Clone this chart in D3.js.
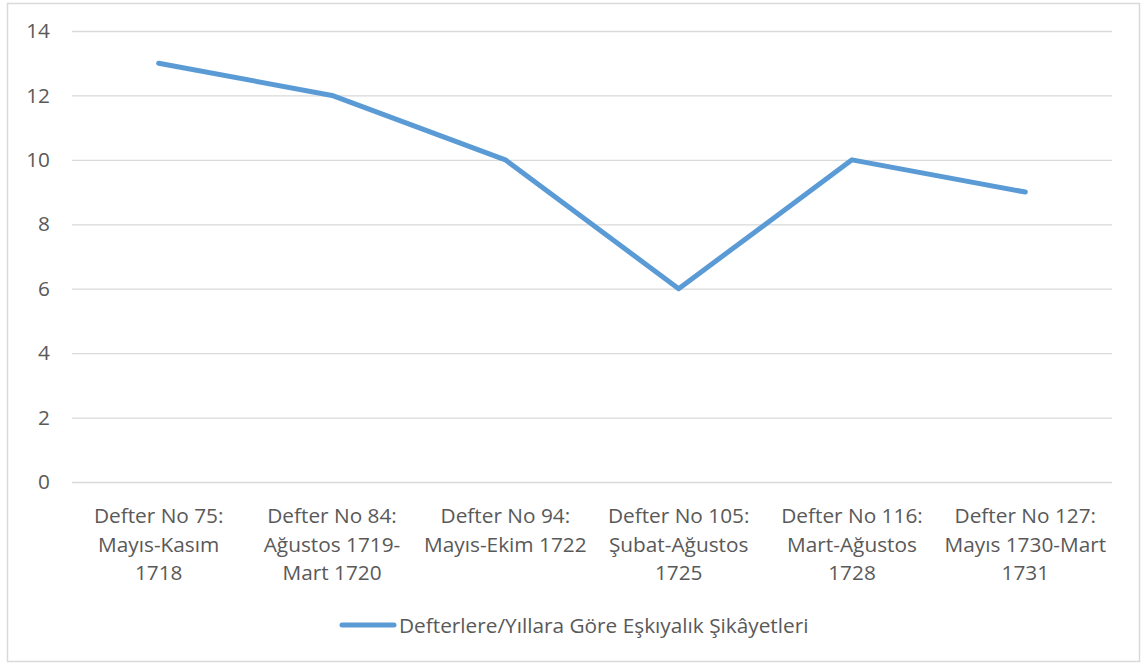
<!DOCTYPE html>
<html><head><meta charset="utf-8">
<script src="https://cdn.jsdelivr.net/npm/d3@7"></script>
<style>
html,body{margin:0;padding:0;background:#fff;}
svg{display:block;font-family:"Open Sans",sans-serif;}
</style></head>
<body><svg id="c" width="1142" height="664"></svg>
<script>
const categories = [
  "Defter No 75:\nMayıs-Kasım\n1718",
  "Defter No 84:\nAğustos 1719-\nMart 1720",
  "Defter No 94:\nMayıs-Ekim 1722",
  "Defter No 105:\nŞubat-Ağustos\n1725",
  "Defter No 116:\nMart-Ağustos\n1728",
  "Defter No 127:\nMayıs 1730-Mart\n1731"
];
const values = [13, 12, 10, 6, 10, 9];
const yTicks = [0, 2, 4, 6, 8, 10, 12, 14];
const seriesName = "Defterlere/Yıllara Göre Eşkıyalık Şikâyetleri";

(function(){
const FONT = "'Open Sans',sans-serif";
const FS = "20.8px";
const svg = d3.select("#c");
svg.append("rect").attr("x",7.5).attr("y",3.5).attr("width",1132).attr("height",658)
  .attr("fill","#fff").attr("stroke","#d9d9d9").attr("stroke-width",1.5);

const pLeft=72, pRight=1112, pTop=31, pBottom=482;
const x = d3.scaleBand().domain(categories).range([pLeft,pRight]);
const y = d3.scaleLinear().domain([0,14]).range([pBottom,pTop]);

const yAxis = svg.append("g").attr("transform",`translate(${pLeft},0)`)
  .call(d3.axisLeft(y).tickValues(yTicks).tickSize(-(pRight-pLeft)).tickPadding(22));
yAxis.select(".domain").remove();
yAxis.selectAll("line").attr("stroke","#d9d9d9").attr("stroke-width",1.3);
yAxis.selectAll("text").attr("fill","#595959").style("font-size",FS).style("font-family",FONT);

const xAxis = svg.append("g").attr("transform",`translate(0,${pBottom})`)
  .call(d3.axisBottom(x).tickSize(0).tickPadding(0));
xAxis.select(".domain").remove();
xAxis.selectAll("text").each(function(d){
  const t = d3.select(this);
  t.text(null).attr("y",0).attr("dy",null)
    .attr("fill","#595959").style("font-size",FS).style("font-family",FONT);
  d.split("\n").forEach((ln,i)=>{
    t.append("tspan").attr("x",0).attr("y",41+i*28.7).text(ln);
  });
});

const line = d3.line().x((d,i)=>x(categories[i])+x.bandwidth()/2).y(d=>y(d));
svg.append("path").datum(values).attr("d",line).attr("fill","none")
  .attr("stroke","#5b9bd5").attr("stroke-width",5).attr("stroke-linecap","round").attr("stroke-linejoin","round");

const lg = svg.append("g");
lg.append("line").attr("x1",342).attr("x2",394).attr("y1",625).attr("y2",625)
  .attr("stroke","#5b9bd5").attr("stroke-width",5).attr("stroke-linecap","round");
lg.append("text").attr("x",399).attr("y",633).attr("fill","#595959")
  .style("font-size",FS).style("font-family",FONT).text(seriesName);
})();
</script></body></html>
